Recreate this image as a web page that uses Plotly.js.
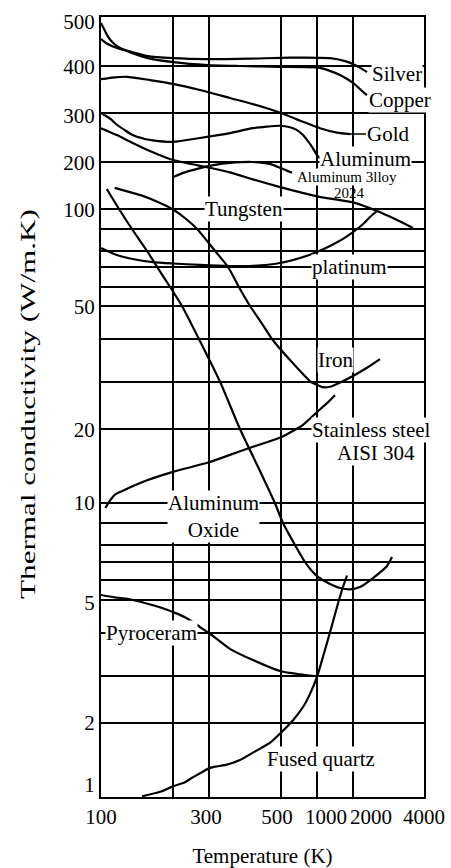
<!DOCTYPE html>
<html><head><meta charset="utf-8">
<script src="https://cdn.plot.ly/plotly-3.0.1.min.js"></script>
<style>html,body{margin:0;padding:0;background:#fff}</style>
</head><body><div id="chart" style="width:451px;height:868px"></div>
<script>
// ---------------- data (temperature K, conductivity W/m.K) ----------------
const copperT = [100,104,110,117,124,142,165,200,297,386,497,1083,1639,2000,2282,2394];
const copperK = [488,476,459,447,439,427,416,408,402,400,398,396,381,364,345,338];
const silverT = [100,107,115,124,142,165,200,297,414,625,1361,1778,2056,2254,2394];
const silverK = [455,447,441,436,429,420,416,414,415,417,416,410,402,394,387];
const goldT = [100,119,136,168,200,275,358,422,500,806,1083,1556,1917];
const goldK = [372,376,377,370,362,349,332,319,300,282,269,260,257];
const aluminumT = [100,113,122,133,144,161,172,200,275,358,422,497,625,722,806,861,931,1000,1083];
const aluminumK = [300,288,276,265,255,247,244,241,249,259,269,274,271,265,255,245,231,214,208];
const alloy2024T = [200,233,275,317,358,422,469,500,653];
const alloy2024K = [168,178,187,194,198,200,196,187,177];
const tungstenT = [100,122,144,172,200,300,358,422,500,1000,2000,2676,3183,3690];
const tungstenK = [269,255,239,220,204,188,178,163,146,127,114,99,95,90.5];
const platinumT = [100,122,144,172,200,275,358,414,497,764,1000,1361,1722,2000,2254,2479,2676];
const platinumK = [81.4,77.5,75,73.1,72.2,71.3,70.6,70.6,72.5,75.6,79.4,82.3,85.5,88.6,92,96,99];
const ironT = [119,140,158,179,199,233,267,317,353,383,414,444,475,625,917,1000,1167,1361,1556,2000,2394,2761];
const ironK = [145,136,128,115,100,95.5,90,80,70,60,50,45.2,40,35.1,30,29.4,28.9,29.0,29.6,31.4,33.3,35.3];
const alOxideT = [108,125,143,164,178,196,225,272,331,386,436,483,528,694,833,917,1028,1361,1639,1917,2197,2563,2958,3099];
const alOxideK = [142.6,100,90,80,70,60,50,40,30,20,14.9,10,9,8,7,6.56,6.17,5.8,5.6,5.53,5.65,6.11,6.78,7.29];
const stainlessT = [106,113,119,129,147,165,200,300,358,422,500,806,1000,1278,1500];
const stainlessK = [9.75,10.4,11.1,11.6,12.4,13.1,14.2,15.5,16.5,17.6,18.9,20.9,23.6,25.5,27.2];
const pyroceramT = [100,119,138,161,185,206,233,256,275,300,325,358,422,500,764,972];
const pyroceramK = [5.25,5.13,5.05,4.91,4.76,4.61,4.48,4.33,4.18,4.0,3.84,3.63,3.37,3.11,3.04,3.0];
const quartzT = [157,182,199,233,253,275,297,317,344,386,422,469,500,667,806,903,1000,1139,1278,1417,1556,1694,1833];
const quartzK = [1.01,1.07,1.14,1.20,1.26,1.32,1.38,1.41,1.43,1.50,1.60,1.73,1.87,2.06,2.34,2.62,2.98,3.37,3.77,4.24,4.79,5.5,6.25];

const xTickLabels = ['100','300','500','1000','2000','4000'];
const yTickLabels = ['500','400','300','200','100','50','20','10','5','2','1'];
const xGridT = [200,300,500,1000,2000];
const yGridK = [2,3,4,5,6,7,8,9,20,30,40,50,60,70,80,90,200,300,400];
const yMajorK = [10,100];

// ------------- the figure's own (hand-drawn, irregular) axis scales -------------
const X_KNOT_T = [100,200,300,500,1000,2000,4000];
const X_KNOT_P = [101,173,209,281,317,353,424];
const Y_KNOT_K = [1,2,3,4,5,6,7,8,9,10,20,30,40,50,60,70,80,90,100,200,300,400,500];
const Y_KNOT_P = [797,723,676,633,600,580,562,545,523,503,429,382,339,306,287,267,251,229,209,162,113,66,17];
function interp(v, xs, ys){
  for (let i=0;i<xs.length-1;i++){
    if (v<=xs[i+1] || i===xs.length-2){
      const t=(v-xs[i])/(xs[i+1]-xs[i]);
      return ys[i]+t*(ys[i+1]-ys[i]);
    }
  }
}
const xPos = T => interp(T, X_KNOT_T, X_KNOT_P);
const yPos = k => interp(k, Y_KNOT_K, Y_KNOT_P);

const FONT = 'Liberation Serif, Times New Roman, serif';
const series = [
  [copperT,copperK],[silverT,silverK],[goldT,goldK],[aluminumT,aluminumK],
  [alloy2024T,alloy2024K],[tungstenT,tungstenK],[platinumT,platinumK],[ironT,ironK],
  [alOxideT,alOxideK],[stainlessT,stainlessK],[pyroceramT,pyroceramK],[quartzT,quartzK]
];
const traces = series.map(([T,K]) => ({
  type:'scatter', mode:'lines', x:T.map(xPos), y:K.map(yPos),
  line:{color:'#000', width:2.2, shape:'spline', smoothing:0.6},
  hoverinfo:'skip', showlegend:false
}));
traces.push({type:'scatter',x:[],y:[],xaxis:'x2',yaxis:'y',showlegend:false,hoverinfo:'skip'});
traces.push({type:'scatter',x:[],y:[],xaxis:'x',yaxis:'y2',showlegend:false,hoverinfo:'skip'});
traces.push({type:'scatter',x:[],y:[],xaxis:'x',yaxis:'y3',showlegend:false,hoverinfo:'skip'});

const XR=[101,424], YR=[797,17];
const xLabelShift=[0,-3,-4,9,18,4];
const yLabelShift=[5,1,3,1,1,1,1,0,3,0,-12];
const tickFont={family:FONT,size:21,color:'#000'};

function ann(x,y,text,opt){
  return Object.assign({x:x,y:y,xref:'x',yref:'y',text:text,showarrow:false,
    font:{family:FONT,size:21,color:'#000'},bgcolor:'#fff',borderpad:0,
    xanchor:'center',yanchor:'middle'},opt||{});
}
const annotations=[
  ann(397,73.5,'Silver'),
  ann(400,99.5,'Copper'),
  ann(350,134,'Gold',{showarrow:true,ax:38,ay:0,arrowhead:0,arrowwidth:1.6,arrowcolor:'#000'}),
  ann(365.5,158.5,'Aluminum'),
  ann(347,177,'Aluminum 3lloy',{font:{family:FONT,size:15,color:'#000'}}),
  ann(349,193,'2024',{font:{family:FONT,size:15,color:'#000'},bgcolor:'rgba(0,0,0,0)'}),
  ann(243.5,209,'Tungsten'),
  ann(349,267,'platinum'),
  ann(335,360,'Iron'),
  ann(371.5,429.5,'Stainless steel'),
  ann(376,453,'AISI 304'),
  ann(213,516.5,'Aluminum<br>Oxide'),
  ann(151.5,632.5,'Pyroceram'),
  ann(320.5,759,'Fused quartz')
];

const layout={
  width:451,height:868,margin:{l:101,r:27,t:17,b:71,pad:0},
  paper_bgcolor:'#fff',plot_bgcolor:'#fff',showlegend:false,
  font:{family:FONT,size:21,color:'#000'},
  xaxis:{range:XR,showgrid:false,zeroline:false,showline:true,mirror:true,linewidth:2,linecolor:'#000',
    tickmode:'array',tickvals:xTickLabels.map((s,i)=>Math.min(xPos(+s)+xLabelShift[i],423.9)),
    ticktext:xTickLabels,ticks:'',tickfont:tickFont,fixedrange:true,
    title:{text:'Temperature (K)',font:{family:FONT,size:21,color:'#000'},standoff:21}},
  xaxis2:{range:XR,overlaying:'x',anchor:'y',side:'bottom',showgrid:true,gridcolor:'#000',gridwidth:2,
    tickmode:'array',tickvals:xGridT.map(xPos),showticklabels:false,ticks:'',zeroline:false,showline:false},
  yaxis:{range:YR,showgrid:false,zeroline:false,showline:true,mirror:true,linewidth:2,linecolor:'#000',
    tickmode:'array',tickvals:yTickLabels.map((s,i)=>yPos(+s)+yLabelShift[i]),
    ticktext:yTickLabels,ticks:'',tickfont:tickFont,fixedrange:true,
    title:{text:'Thermal conductivity (W/m.K)',font:{family:FONT,size:21,color:'#000'},standoff:22}},
  yaxis2:{range:YR,overlaying:'y',anchor:'x',side:'left',showgrid:true,gridcolor:'#000',gridwidth:1.5,
    tickmode:'array',tickvals:yGridK.map(yPos),showticklabels:false,ticks:'',zeroline:false,showline:false},
  yaxis3:{range:YR,overlaying:'y',anchor:'x',side:'left',showgrid:true,gridcolor:'#000',gridwidth:2.2,
    tickmode:'array',tickvals:yMajorK.map(yPos),showticklabels:false,ticks:'',zeroline:false,showline:false},
  annotations:annotations
};
Plotly.newPlot('chart',traces,layout,{staticPlot:true,displayModeBar:false}).then(gd=>{
  // the reference's y title is drawn elongated along its reading direction
  const t = gd.querySelector('.ytitle');
  if (!t) return;
  const svgTop = t.ownerSVGElement.getBoundingClientRect().top;
  const r = t.getBoundingClientRect();
  if (!r.height) return;
  const cy = r.top - svgTop + r.height/2;
  const s = 390 / r.height, target = 404;
  const prev = t.getAttribute('transform') || '';
  t.setAttribute('transform', 'translate(0,'+target+') scale(1,'+s+') translate(0,'+(-cy)+') '+prev);
});
</script></body></html>
